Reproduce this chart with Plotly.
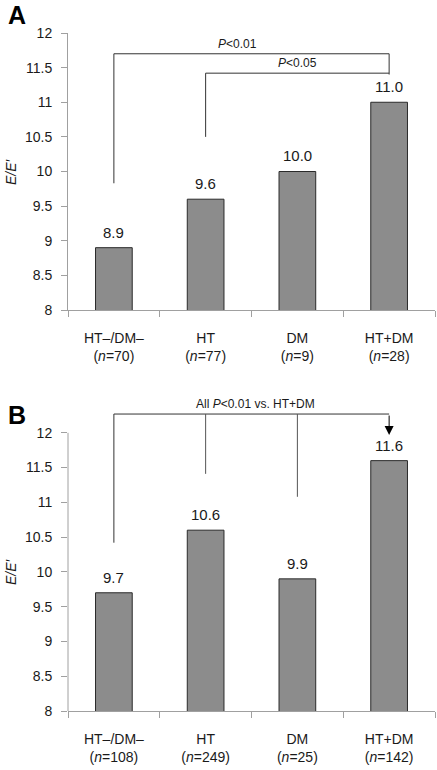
import plotly.graph_objects as go

# ---- data ----
cats_a = ["HT–/DM–<br>(<i>n</i>=70)", "HT<br>(<i>n</i>=77)", "DM<br>(<i>n</i>=9)", "HT+DM<br>(<i>n</i>=28)"]
vals_a = [8.9, 9.6, 10.0, 11.0]
cats_b = ["HT–/DM–<br>(<i>n</i>=108)", "HT<br>(<i>n</i>=249)", "DM<br>(<i>n</i>=25)", "HT+DM<br>(<i>n</i>=142)"]
vals_b = [9.7, 10.6, 9.9, 11.6]
y_ticks = [8, 8.5, 9, 9.5, 10, 10.5, 11, 11.5, 12]
y_ticktext = ["8", "8.5", "9", "9.5", "10", "10.5", "11", "11.5", "12"]

FONT = "Liberation Sans, Arial, sans-serif"
BAR_FILL = "#8c8c8c"
BAR_LINE = "#2a2a2a"
AXIS_C = "#a0a0a0"
BRK = "#333333"
TXT = "#1a1a1a"

W, H = 437, 770

fig = go.Figure()
fig.add_trace(go.Bar(x=cats_a, y=vals_a, xaxis="x", yaxis="y", width=0.4,
                     marker=dict(color=BAR_FILL, line=dict(color=BAR_LINE, width=1)),
                     showlegend=False, hoverinfo="skip"))
fig.add_trace(go.Bar(x=cats_b, y=vals_b, xaxis="x2", yaxis="y2", width=0.4,
                     marker=dict(color=BAR_FILL, line=dict(color=BAR_LINE, width=1)),
                     showlegend=False, hoverinfo="skip"))

xcommon = dict(type="category", tickson="boundaries", ticks="outside", ticklen=6,
               tickcolor=AXIS_C, showline=True, linecolor=AXIS_C, linewidth=1,
               showgrid=False, zeroline=False, fixedrange=True, automargin=False,
               tickfont=dict(family=FONT, size=14, color=TXT), ticklabelstandoff=15,
               domain=[68 / W, 435 / W])
ycommon = dict(tickvals=y_ticks, ticktext=y_ticktext, ticks="outside", ticklen=6,
               tickcolor=AXIS_C, showgrid=False, zeroline=False, automargin=False,
               fixedrange=True,
               tickfont=dict(family=FONT, size=14, color=TXT), ticklabelstandoff=6)

fig.update_layout(
    width=W, height=H,
    margin=dict(l=0, r=0, t=0, b=0, autoexpand=False),
    paper_bgcolor="white", plot_bgcolor="white",
    bargap=0.6,
    xaxis=dict(**xcommon, anchor="y"),
    yaxis=dict(**ycommon, anchor="x", range=[8, 12], showline=True, linecolor=AXIS_C,
               linewidth=1, domain=[1 - 310 / H, 1 - 33 / H]),
    xaxis2=dict(**xcommon, anchor="y2"),
    yaxis2=dict(**ycommon, anchor="x2", range=[8, 12.4], showline=False,
                domain=[1 - 711 / H, 1 - 405 / H]),
)

shapes = []
# y-axis line for panel B (only up to 12)
shapes.append(dict(type="line", xref="x2 domain", yref="y2", x0=0, x1=0, y0=8, y1=12,
                   line=dict(color=AXIS_C, width=1)))

def seg(xr, yr, x0, y0, x1, y1, color=BRK):
    shapes.append(dict(type="line", xref=xr, yref=yr, x0=x0, y0=y0, x1=x1, y1=y1,
                       line=dict(color=color, width=1)))

# Panel A brackets
seg("x", "y", 0, 9.83, 0, 11.70)
seg("x", "y", 0, 11.70, 3, 11.70)
seg("x", "y", 3, 11.70, 3, 11.40)
seg("x", "y", 1, 10.50, 1, 11.42)
seg("x", "y", 1, 11.42, 3, 11.42)

# Panel B bracket
seg("x2", "y2", 0, 10.42, 0, 12.27)
seg("x2", "y2", 0, 12.27, 3, 12.27)
seg("x2", "y2", 1, 11.41, 1, 12.27, "#555555")
seg("x2", "y2", 2, 11.08, 2, 12.27, "#555555")

fig.update_layout(shapes=shapes)

ann = []
for i, v in enumerate(vals_a):
    ann.append(dict(x=i, y=v, xref="x", yref="y", text=f"{v:.1f}", showarrow=False,
                    yanchor="bottom", yshift=5, font=dict(family=FONT, size=15, color=TXT)))
for i, v in enumerate(vals_b):
    ann.append(dict(x=i, y=v, xref="x2", yref="y2", text=f"{v:.1f}", showarrow=False,
                    yanchor="bottom", yshift=5, font=dict(family=FONT, size=15, color=TXT)))

ann.append(dict(x=1.35, y=11.70, xref="x", yref="y", text="<i>P</i><0.01", showarrow=False,
                yanchor="bottom", yshift=1, font=dict(family=FONT, size=12, color=TXT)))
ann.append(dict(x=2.0, y=11.42, xref="x", yref="y", text="<i>P</i><0.05", showarrow=False,
                yanchor="bottom", yshift=1, font=dict(family=FONT, size=12, color=TXT)))
ann.append(dict(x=1.54, y=12.27, xref="x2", yref="y2", text="All <i>P</i><0.01 vs. HT+DM",
                showarrow=False, yanchor="bottom", yshift=1,
                font=dict(family=FONT, size=12, color=TXT)))
# arrow to HT+DM in panel B
ann.append(dict(x=3, y=11.97, xref="x2", yref="y2", ax=3, ay=12.27, axref="x2", ayref="y2",
                text="", showarrow=True, arrowhead=2, arrowsize=1.8, arrowwidth=1,
                arrowcolor="#000000"))

# Panel letters
ann.append(dict(x=6 / W, y=1 - 15 / H, xref="paper", yref="paper", text="<b>A</b>",
                showarrow=False, xanchor="left", yanchor="middle",
                font=dict(family=FONT, size=25, color="#000000")))
ann.append(dict(x=6 / W, y=1 - 415 / H, xref="paper", yref="paper", text="<b>B</b>",
                showarrow=False, xanchor="left", yanchor="middle",
                font=dict(family=FONT, size=25, color="#000000")))

# y-axis titles
for yc in (172, 572):
    ann.append(dict(x=11 / W, y=1 - yc / H, xref="paper", yref="paper", text="<i>E/E′</i>",
                    showarrow=False, textangle=-90, xanchor="center", yanchor="middle",
                    font=dict(family=FONT, size=14, color=TXT)))

fig.update_layout(annotations=ann)

fig.write_html("out.html", config={"displayModeBar": False},
               post_script="document.body.style.margin='0';document.body.style.overflow='hidden';")
